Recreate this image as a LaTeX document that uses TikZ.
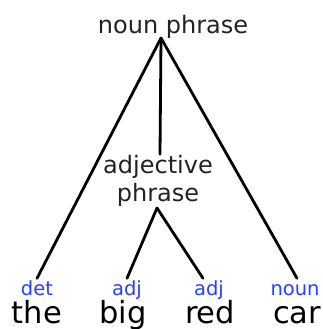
\documentclass[tikz,border=0pt]{standalone}
\usepackage{fontspec}
\setmainfont{DejaVu Sans}
\definecolor{tagblue}{RGB}{40,64,255}
\definecolor{phrasegray}{RGB}{34,34,34}
\tikzset{
  phrase/.style={text=phrasegray, font=\fontsize{24}{28}\selectfont, align=center, inner sep=1pt},
  tag/.style={text=tagblue, font=\fontsize{19.5}{22}\selectfont, anchor=base, text height=14pt, inner sep=2.5pt},
  word/.style={font=\fontsize{30.5}{34}\selectfont, anchor=base, inner sep=1pt},
  branch/.style={line width=2.8pt, line cap=round}
}
\begin{document}
\begin{tikzpicture}[x=1pt,y=-1pt]
  \useasboundingbox (0,0) rectangle (323,329);

  % phrases
  \node[phrase] (np) at (173,27) {noun phrase};
  \node[phrase] (ap) at (158,181) {adjective\\phrase};
  \coordinate (np apex) at (161,38);
  \coordinate (ap apex) at (157,208);

  % tags and words
  \node[tag] (det)  at (37,295)  {det};
  \node[tag] (adja) at (127,295) {adj};
  \node[tag] (adjb) at (209,295) {adj};
  \node[tag] (noun) at (295,295) {noun};

  \node[word] (the) at (37,323)  {the};
  \node[word] (big) at (123,323) {big};
  \node[word] (red) at (210,323) {red};
  \node[word] (car) at (297,323) {car};

  % branches
  \draw[branch] (np apex) -- (det.north);
  \draw[branch] (np apex) -- ([xshift=2pt]ap.north);
  \draw[branch] (np apex) -- ([xshift=2pt]noun.north);
  \draw[branch] (ap apex) -- (adja.north);
  \draw[branch] (ap apex) -- ([xshift=-6pt]adjb.north);
\end{tikzpicture}
\end{document}
